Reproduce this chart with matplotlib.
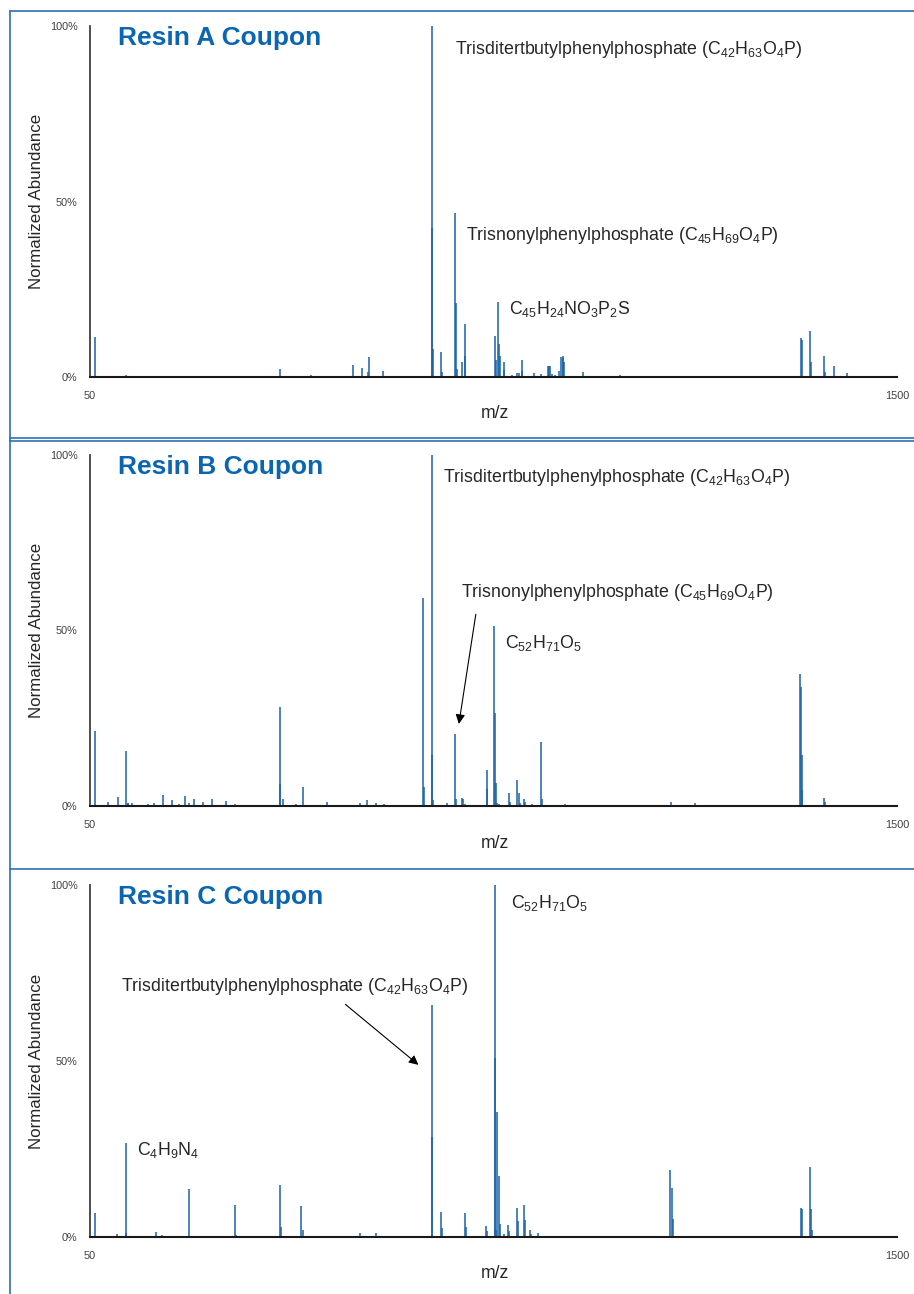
''' Mass spectra of three resin coupons '''

import matplotlib
matplotlib.use('Agg')
import matplotlib.pyplot as plt
from matplotlib.lines import Line2D
from matplotlib.ticker import FuncFormatter

plt.rcParams['font.family'] = ['Liberation Sans', 'DejaVu Sans']
plt.rcParams['mathtext.default'] = 'regular'

W, H = 914, 1294
PEAK = '#1A63A8'
TITLE = '#0B66B2'
FRAME = '#2F6FB3'
TXT = '#262626'

# m/z and normalized abundance (%)
a_mz = [59, 114, 391, 447, 494, 523, 538, 549, 551, 565, 577,
        664, 665, 667, 681, 683, 706, 708, 709, 719, 723, 724,
        777, 779, 783, 785, 787, 793, 794, 809, 818, 821, 826, 827,
        848, 860, 873, 875, 877, 881, 885, 893, 896, 899, 900, 902,
        935, 942, 1002, 1327, 1329, 1344, 1346, 1369, 1371, 1386, 1411, 1428]
a_ab = [11.4, 0.5, 2.3, 0.7, 0.3, 3.4, 2.7, 1.5, 5.8, 0.3, 1.7,
        100, 42.5, 8.0, 7.0, 1.5, 46.6, 21.0, 2.4, 4.4, 15.1, 6.0,
        11.8, 4.8, 21.3, 9.3, 6.0, 4.4, 2.0, 0.5, 1.0, 1.0, 4.8, 1.8,
        1.0, 0.8, 3.0, 3.1, 3.1, 0.8, 0.6, 1.8, 5.8, 6.0, 5.4, 4.2,
        1.3, 0.4, 0.5, 11.0, 10.5, 13.2, 4.3, 6.0, 1.4, 3.0, 1.1, 0.3]

b_mz = [59, 82, 100, 114, 118, 119, 126, 148, 155, 165, 181, 197, 210,
        220, 227, 236, 246, 253, 270, 283, 295, 311, 338, 365, 391, 392,
        396, 420, 432, 475, 535, 547, 564, 578, 648, 650, 664, 665, 666,
        681, 692, 706, 708, 719, 721, 723, 763, 764, 776, 777, 779, 781,
        784, 790, 802, 804, 818, 820, 823, 829, 831, 845, 861, 862, 903,
        1094, 1137, 1326, 1328, 1329, 1330, 1369, 1370]
b_ab = [21.4, 1.2, 2.7, 15.8, 0.8, 0.8, 0.8, 0.3, 0.6, 0.8, 3.1, 1.7, 0.6,
        2.8, 0.8, 2.0, 0.4, 1.2, 2.1, 0.3, 1.4, 0.6, 0.2, 0.3, 28.1, 6.4,
        2.1, 0.6, 5.3, 1.2, 0.8, 1.7, 0.8, 0.5, 59.4, 5.5, 100, 14.5, 1.7,
        0.3, 0.8, 20.4, 1.9, 2.2, 1.9, 0.5, 10.3, 4.8, 51.3, 26.4, 6.5, 0.8,
        0.5, 0.3, 3.6, 1.2, 7.4, 3.6, 0.8, 2.0, 1.0, 0.5, 18.3, 2.0, 0.6,
        1.1, 0.8, 37.5, 34.0, 14.5, 4.6, 2.2, 1.0]

c_mz = [59, 98, 114, 115, 155, 169, 180, 217, 220, 228, 238, 264, 279,
        311, 312, 391, 393, 430, 432, 536, 547, 564, 664, 665, 681, 683,
        723, 725, 761, 763, 777, 778, 780, 782, 784, 786, 793, 801, 803,
        817, 819, 830, 832, 840, 842, 855, 870, 898,
        1093, 1095, 1097, 1327, 1329, 1344, 1346, 1348]
c_ab = [6.7, 0.9, 26.6, 1.0, 0.4, 1.3, 0.6, 0.3, 0.3, 13.5, 0.3, 0.2, 0.2,
        9.1, 0.5, 14.8, 2.9, 8.9, 1.9, 1.0, 0.3, 1.0, 65.9, 28.3, 7.0, 2.6,
        6.7, 2.8, 3.1, 1.8, 100, 50.8, 1.9, 35.4, 17.4, 3.6, 0.9, 3.4, 1.8,
        8.1, 4.5, 9.1, 4.9, 1.9, 0.9, 1.1, 0.3, 0.4,
        19.0, 14.0, 5.1, 8.1, 8.0, 19.8, 7.9, 1.9]

titles = ['Resin A Coupon', 'Resin B Coupon', 'Resin C Coupon']

TRIS_BU = r'Trisditertbutylphenylphosphate (C$_{42}$H$_{63}$O$_{4}$P)'
TRIS_NON = r'Trisnonylphenylphosphate (C$_{45}$H$_{69}$O$_{4}$P)'
C52 = r'C$_{52}$H$_{71}$O$_{5}$'
C45 = r'C$_{45}$H$_{24}$NO$_{3}$P$_{2}$S'
C4 = r'C$_{4}$H$_{9}$N$_{4}$'

# (text, text xy, arrow start, arrow tip)
labels = [
    [(TRIS_BU, (706, 93.2), None, None),
     (TRIS_NON, (725, 40.2), None, None),
     (C45, (803, 19.4), None, None)],
    [(TRIS_BU, (685, 93.6), None, None),
     (TRIS_NON, (716, 60.9), (744, 55.4), (712, 22.6)),
     (C52, (796, 46.5), None, None)],
    [(C52, (806, 94.8), None, None),
     (TRIS_BU, (106, 71.3), (505, 66.6), (644, 48.4)),
     (C4, (135, 24.7), None, None)],
]

spectra = [(a_mz, a_ab), (b_mz, b_ab), (c_mz, c_ab)]
# pixel rows of each plot area: top, bottom
boxes = [(26, 377), (455, 806), (885, 1237)]
LEFT, RIGHT = 90, 897


def fig_line(x0, y0, x1, y1, **kw):
    fig.add_artist(Line2D([x0 / W, x1 / W], [1 - y0 / H, 1 - y1 / H],
                          transform=fig.transFigure, **kw))


fig = plt.figure(figsize=(W / 100, H / 100), dpi=100)

for i, ((mz, ab), (top, bot)) in enumerate(zip(spectra, boxes)):
    ax = fig.add_axes([LEFT / W, 1 - bot / H, (RIGHT - LEFT) / W, (bot - top) / H])
    ax.vlines(mz, 0, ab, color=PEAK, lw=1.1)
    ax.set_xlim(50, 1500)
    ax.set_ylim(0, 100)
    ax.set_xticks([50, 1500])
    ax.set_yticks([0, 50, 100])
    ax.yaxis.set_major_formatter(FuncFormatter(lambda v, p: '%d%%' % v))
    ax.tick_params(length=0, labelsize=7.8, labelcolor='#404040')
    ax.tick_params(axis='x', pad=10)
    ax.tick_params(axis='y', pad=9)
    for s in ['top', 'right']:
        ax.spines[s].set_visible(False)
    ax.spines['left'].set_color('#404040')
    ax.spines['left'].set_linewidth(1.3)
    ax.spines['bottom'].set_color('#1a1a1a')
    ax.spines['bottom'].set_linewidth(1.5)

    fig.text(118 / W, 1 - (top + 12) / H, titles[i], fontsize=19,
             fontweight='bold', color=TITLE, ha='left', va='center')

    for txt, xy, start, tip in labels[i]:
        ax.text(xy[0], xy[1], txt, fontsize=12.8, color=TXT,
                ha='left', va='center')
        if tip is not None:
            ax.annotate('', xy=tip, xytext=start,
                        arrowprops=dict(arrowstyle='-|>', color='black',
                                        lw=0.8, mutation_scale=14))

    fig.text(37 / W, 1 - (top + bot) / 2 / H, 'Normalized Abundance',
             rotation=90, fontsize=12.2, color=TXT, ha='center', va='center')
    fig.text(495 / W, 1 - (bot + 37) / H, 'm/z', fontsize=12.7,
             color=TXT, ha='center', va='center')

# panel frame lines
fig_line(10, 11, W, 11, color=FRAME, lw=1.2)
fig_line(10, 11, 10, H, color=FRAME, lw=1.2)
fig_line(10, 438, W, 438, color=FRAME, lw=1.2)
fig_line(10, 441, W, 441, color=FRAME, lw=1.2)
fig_line(10, 869, W, 869, color=FRAME, lw=1.2)

plt.savefig('out.png', dpi=100)
